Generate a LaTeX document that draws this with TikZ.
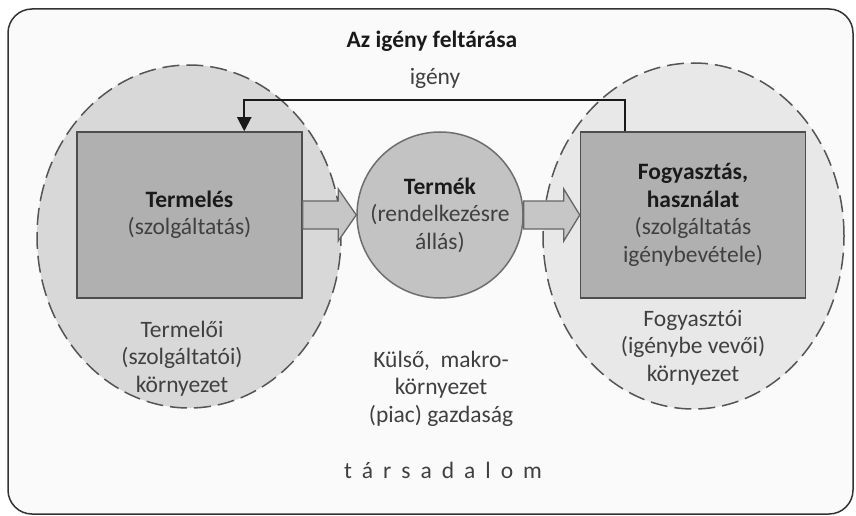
\documentclass[tikz,border=0pt]{standalone}
\usepackage{fontspec}
\setmainfont{Carlito}
\usetikzlibrary{shapes.geometric,arrows.meta,calc}
\definecolor{framec}{HTML}{333333}
\definecolor{framefill}{HTML}{FAFAFA}
\definecolor{envL}{HTML}{D8D8D8}
\definecolor{envR}{HTML}{E8E8E8}
\definecolor{envline}{HTML}{555555}
\definecolor{boxfill}{HTML}{B0B0B0}
\definecolor{boxline}{HTML}{4D4D4D}
\definecolor{circfill}{HTML}{C3C3C3}
\definecolor{circline}{HTML}{6E6E6E}
\definecolor{arrfill}{HTML}{C6C6C6}
\definecolor{arrline}{HTML}{666666}
\definecolor{txtc}{HTML}{404040}
\definecolor{boldc}{HTML}{1A1A1A}
\newcommand{\bt}[1]{\textcolor{boldc}{\textbf{#1}}}
\tikzset{
  txt/.style={font=\fontsize{23.5}{27.5}\selectfont, text=txtc, align=center, inner sep=0pt},
  frame/.style={draw=framec, line width=1.5pt, fill=framefill, rounded corners=24pt, minimum width=845pt, minimum height=505pt, inner sep=0pt},
  envelope/.style={ellipse, draw=envline, line width=1.5pt, dash pattern=on 17pt off 7pt, inner sep=0pt},
  mainbox/.style={rectangle, draw=boxline, line width=1.5pt, fill=boxfill, minimum width=225pt, minimum height=166pt, txt},
  prodcircle/.style={circle, draw=circline, line width=1.5pt, fill=circfill, minimum size=166pt, txt},
  fatarrow/.style={draw=arrline, line width=1.3pt, fill=arrfill, line join=miter},
  feedback/.style={draw=black!90, line width=2pt, -{Triangle[width=14pt,length=14pt]}}
}
\begin{document}
\begin{tikzpicture}[x=1pt,y=-1pt]
\useasboundingbox (0,0) rectangle (856,516);
\node[frame] (frame) at (430.5,261.5) {};
\node[envelope, fill=envL, minimum width=304pt, minimum height=343pt] (prodenv) at (189,236.5) {};
\node[envelope, fill=envR, minimum width=301pt, minimum height=346pt] (consenv) at (693.5,236) {};
\node[mainbox] (prod) at (189.5,215) {\bt{Termelés}\\(szolgáltatás)};
\node[mainbox] (cons) at (693,215) {\bt{Fogyasztás,}\\\bt{használat}\\(szolgáltatás\\igénybevétele)};
\node[prodcircle, inner sep=0pt] (prodt) at (440,215) {\bt{Termék}\\(rendelkezésre\\állás)};
\draw[fatarrow] ($(prod.east)+(0,-14)$) -- ($(prodt.west)+(-18,-14)$) -- ($(prodt.west)+(-18,-26)$) -- (prodt.west) -- ($(prodt.west)+(-18,26)$) -- ($(prodt.west)+(-18,14)$) -- ($(prod.east)+(0,14)$) -- cycle;
\draw[fatarrow] ($(prodt.east)+(0,-14)$) -- ($(cons.west)+(-16,-14)$) -- ($(cons.west)+(-16,-26)$) -- (cons.west) -- ($(cons.west)+(-16,26)$) -- ($(cons.west)+(-16,14)$) -- ($(prodt.east)+(0,14)$) -- cycle;
\draw[feedback] ($(cons.north west)+(45,0)$) -- ++(0,-31) -| ($(prod.north west)+(168,0)$);
\node[txt, anchor=base] (title) at (432,48) {\bt{Az igény feltárása}};
\node[txt, anchor=base] (need) at (435,85) {igény};
\node[txt, anchor=base] (prodenvlabel) at (182,392) {Termelői\\(szolgáltatói)\\környezet};
\node[txt, anchor=base] (consenvlabel) at (693,381) {Fogyasztói\\(igénybe vevői)\\környezet};
\node[txt, anchor=base] (macro) at (441,422) {Külső,\ \ makro-\\környezet\\(piac) gazdaság};
\node[txt, anchor=base] (society) at (443,478) {t\hspace{10pt}á\hspace{10pt}r\hspace{10pt}s\hspace{10pt}a\hspace{10pt}d\hspace{10pt}a\hspace{10pt}l\hspace{10pt}o\hspace{10pt}m};
\end{tikzpicture}
\end{document}
